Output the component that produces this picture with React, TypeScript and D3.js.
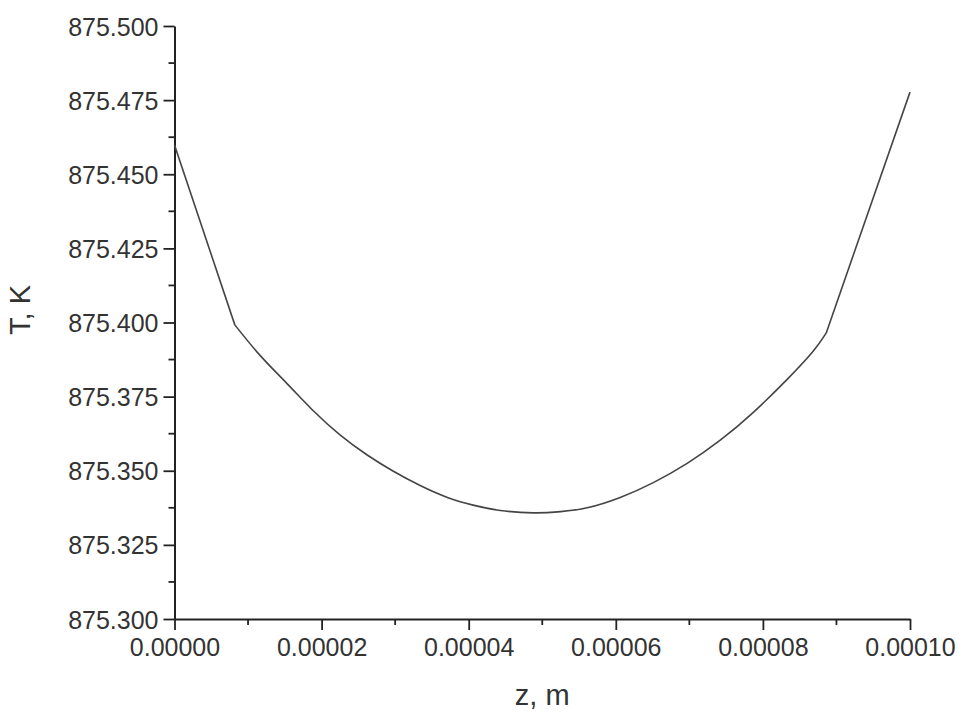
import React, { useEffect, useRef } from "react";
import * as d3 from "d3";

const zValues = [0, 0.0000082, 0.0000116, 0.0000153, 0.0000188, 0.0000225, 0.0000262, 0.0000297, 0.0000334, 0.0000371, 0.0000406, 0.0000443, 0.0000488, 0.0000525, 0.0000561, 0.0000606, 0.0000651, 0.0000697, 0.0000742, 0.0000787, 0.0000833, 0.0000868, 0.0000886, 0.0001];
const tValues = [875.4599, 875.3992, 875.3890, 875.3794, 875.3704, 875.3621, 875.3553, 875.3499, 875.3450, 875.3410, 875.3384, 875.3366, 875.3358, 875.3362, 875.3375, 875.3410, 875.3460, 875.3525, 875.3603, 875.3697, 875.3808, 875.3902, 875.3964, 875.4777];
const xTicks = [0, 0.00002, 0.00004, 0.00006, 0.00008, 0.0001];
const yTicks = [875.3, 875.325, 875.35, 875.375, 875.4, 875.425, 875.45, 875.475, 875.5];
const xLabel = "z, m";
const yLabel = "T, K";

const W = 970, H = 717;
const M = { left: 174.5, right: 910, top: 26, bottom: 619 };

export default function App() {
  const ref = useRef<SVGSVGElement>(null);
  useEffect(() => {
    const svg = d3.select(ref.current);
    svg.selectAll("*").remove();
    const x = d3.scaleLinear().domain([0, 0.0001]).range([M.left, M.right]);
    const y = d3.scaleLinear().domain([875.3, 875.5]).range([M.bottom, M.top]);
    const font = "'Liberation Sans', Arial, sans-serif";
    const axisColor = "#222";
    const textColor = "#333";

    // x axis
    const xMinor = d3.range(0, 10).map((i) => 0.00001 + i * 0.00002).filter((v) => v < 0.0001);
    const xAxis = d3.axisBottom(x).tickValues(xTicks).tickSize(11).tickSizeOuter(0)
      .tickFormat((d) => (d as number).toFixed(5)).tickPadding(8);
    const gx = svg.append("g").attr("transform", `translate(0,${M.bottom})`).call(xAxis);
    gx.append("g").selectAll("line").data(xMinor).join("line")
      .attr("x1", (d) => x(d)).attr("x2", (d) => x(d)).attr("y1", 0).attr("y2", 6)
      .attr("stroke", axisColor).attr("stroke-width", 1.8);

    // y axis
    const yMinor = d3.range(0, 8).map((i) => 875.3125 + i * 0.025);
    const yAxis = d3.axisLeft(y).tickValues(yTicks).tickSize(11).tickSizeOuter(0)
      .tickFormat((d) => (d as number).toFixed(3)).tickPadding(5);
    const gy = svg.append("g").attr("transform", `translate(${M.left},0)`).call(yAxis);
    gy.append("g").selectAll("line").data(yMinor).join("line")
      .attr("y1", (d) => y(d)).attr("y2", (d) => y(d)).attr("x1", 0).attr("x2", -6)
      .attr("stroke", axisColor).attr("stroke-width", 1.8);

    [gx, gy].forEach((g) => {
      g.selectAll(".domain").attr("stroke", axisColor).attr("stroke-width", 2);
      g.selectAll(".tick line").attr("stroke", axisColor).attr("stroke-width", 1.8);
      g.selectAll(".tick text").attr("font-family", font).attr("font-size", 25).attr("fill", textColor);
    });
    gy.selectAll(".tick text").attr("dy", "0.36em");

    // line: straight end segments, smooth middle
    const data = zValues.map((z, i) => [z, tValues[i]] as [number, number]);
    const n = data.length;
    const straight = d3.line<[number, number]>().x((d) => x(d[0])).y((d) => y(d[1])).curve(d3.curveLinear);
    const smooth = d3.line<[number, number]>().x((d) => x(d[0])).y((d) => y(d[1])).curve(d3.curveNatural);
    const segs = [data.slice(0, 2), data.slice(1, n - 1), data.slice(n - 2)];
    segs.forEach((s, i) => {
      svg.append("path").datum(s).attr("d", i === 1 ? smooth : straight).attr("fill", "none")
        .attr("stroke", "#444").attr("stroke-width", 1.6).attr("stroke-linejoin", "round");
    });

    // labels
    svg.append("text").attr("x", (M.left + M.right) / 2).attr("y", 705)
      .attr("text-anchor", "middle").attr("font-family", font).attr("font-size", 29)
      .attr("fill", textColor).text(xLabel);
    svg.append("text").attr("transform", `translate(30,310) rotate(-90)`)
      .attr("text-anchor", "middle").attr("font-family", font).attr("font-size", 29)
      .attr("fill", textColor).text(yLabel);
  }, []);
  return (
    <svg ref={ref} width={W} height={H} style={{ position: "absolute", left: 0, top: 0, background: "#fff" }} />
  );
}
